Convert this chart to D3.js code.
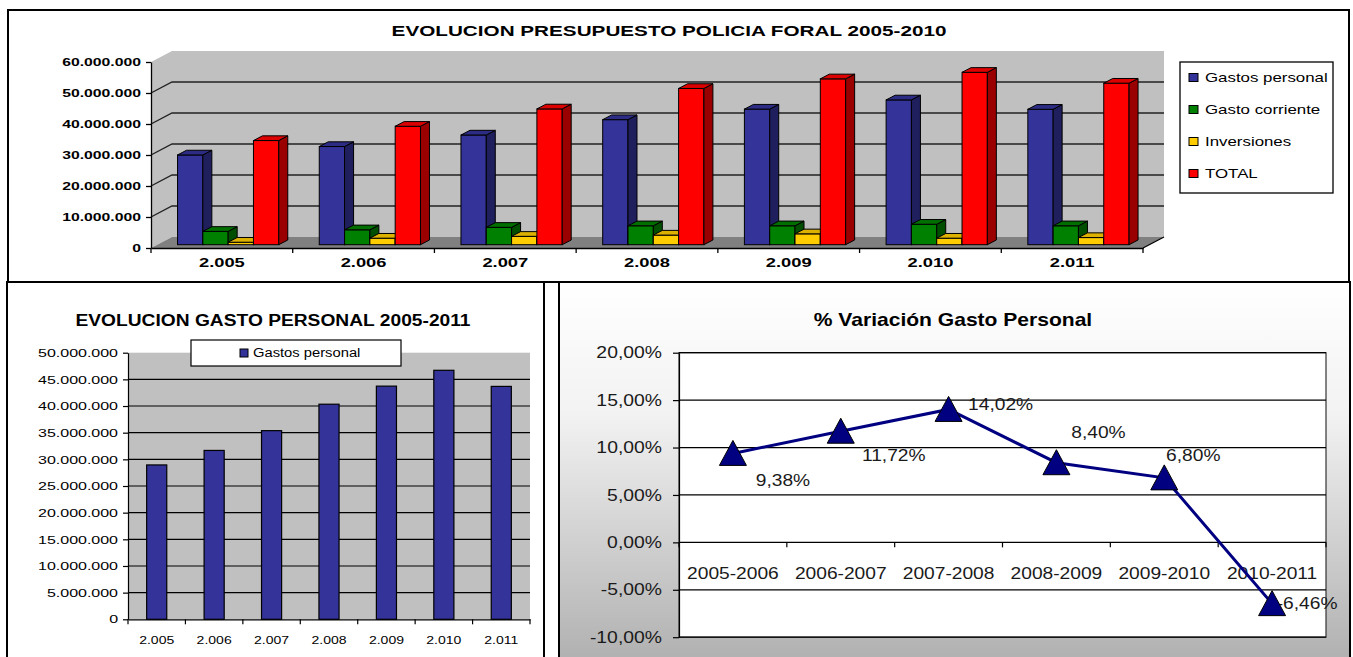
<!DOCTYPE html>
<html>
<head>
<meta charset="utf-8">
<script src="https://cdn.jsdelivr.net/npm/d3@7"></script>
<style>
  body { margin: 0; background: #fff; }
  svg { display: block; font-family: "Liberation Sans", Arial, sans-serif; }
</style>
</head>
<body>
<svg id="chart" width="1353" height="657"></svg>
<script>
// --- Data ---
const years = [2005, 2006, 2007, 2008, 2009, 2010, 2011];
const gastosPersonal = [28.95e6, 31.67e6, 35.38e6, 40.34e6, 43.73e6, 46.70e6, 43.68e6];
const gastoCorriente = [4.3e6, 4.8e6, 5.6e6, 6.1e6, 6.1e6, 6.6e6, 6.1e6];
const inversiones = [0.8e6, 2.1e6, 2.7e6, 3.1e6, 3.5e6, 2.1e6, 2.3e6];
const totalPresupuesto = [33.6e6, 38.2e6, 43.8e6, 50.4e6, 53.5e6, 55.6e6, 52.1e6];
const seriesNames = ["Gastos personal", "Gasto corriente", "Inversiones", "TOTAL"];
const seriesColors = ["#333399", "#008000", "#ffcc00", "#ff0000"];

const periods = ["2005-2006", "2006-2007", "2007-2008", "2008-2009", "2009-2010", "2010-2011"];
const variation = [9.38, 11.72, 14.02, 8.40, 6.80, -6.46];
// where Excel put each data label, relative to its point
const labelOffsets = [[50, 27], [53, 24], [52, -5], [42, -30], [29, -22], [35, 0]];

// Spanish number format: 60.000.000 / 20,00%
const es = d3.formatLocale({ decimal: ",", thousands: ".", grouping: [3], currency: ["", " €"], minus: "-" });
const fmtInt = es.format(",.0f");
const fmtYear = es.format(",d");
const fmtPct = v => es.format(".2f")(v) + "%";

const svg = d3.select("#chart");
const defs = svg.append("defs");
const poly = pts => "M" + pts.map(p => p.join(",")).join("L") + "Z";

// the picture is stretched sideways, so text gets a horizontal scale
function stretch(sel, sx) {
  sel.each(function () {
    const t = d3.select(this);
    const x = +t.attr("x") || 0;
    t.attr("x", x / sx).attr("transform", `scale(${sx},1)`);
  });
}
function label(g, x, y, str, sx) {
  return g.append("text").attr("transform", `translate(${x},${y}) scale(${sx},1)`).text(str);
}

// ================= TOP: 3D column chart =================
const T = { x0: 151, x1: 1143, y0: 248, y1: 62, dx: 21, dy: -11 };
const xTop = d3.scaleBand().domain(years).range([T.x0, T.x1]);
const yTop = d3.scaleLinear().domain([0, 60e6]).range([T.y0, T.y1]);
const gT = svg.append("g");

label(gT, 669, 36, "EVOLUCION PRESUPUESTO POLICIA FORAL 2005-2010", 1.38)
  .attr("text-anchor", "middle").attr("font-size", 15).attr("font-weight", "bold");

// side wall, back wall, floor
gT.append("path").attr("fill", "#c0c0c0")
  .attr("d", poly([[T.x0, T.y0], [T.x0, T.y1], [T.x0 + T.dx, T.y1 + T.dy], [T.x0 + T.dx, T.y0 + T.dy]]));
gT.append("rect").attr("fill", "#c0c0c0")
  .attr("x", T.x0 + T.dx).attr("y", T.y1 + T.dy)
  .attr("width", T.x1 - T.x0).attr("height", T.y0 - T.y1);
gT.append("path").attr("fill", "#808080")
  .attr("d", poly([[T.x0, T.y0], [T.x1, T.y0], [T.x1 + T.dx, T.y0 + T.dy], [T.x0 + T.dx, T.y0 + T.dy]]));

// gridlines: slant on side wall, flat on back wall
gT.append("g").selectAll("path")
  .data(yTop.ticks(6).filter(v => v > 0 && v < 60e6))
  .enter().append("path")
  .attr("fill", "none").attr("stroke", "#222").attr("stroke-width", 1.4)
  .attr("d", v => `M${T.x0},${yTop(v)}L${T.x0 + T.dx},${yTop(v) + T.dy}H${T.x1 + T.dx}`);

// y axis
const yAxT = gT.append("g").attr("transform", `translate(${T.x0},0)`)
  .call(d3.axisLeft(yTop).ticks(6).tickFormat(fmtInt).tickSize(5).tickSizeOuter(0).tickPadding(5));
yAxT.attr("font-family", null).attr("font-size", 10.5).attr("font-weight", "bold");
yAxT.selectAll("line, path").attr("stroke", "#000").attr("stroke-width", 1.3);
stretch(yAxT.selectAll("text"), 1.5);

// x axis
const xAxT = gT.append("g").attr("transform", `translate(0,${T.y0})`)
  .call(d3.axisBottom(xTop).tickFormat(fmtYear).tickSize(0).tickSizeOuter(0).tickPadding(10));
xAxT.attr("font-family", null).attr("font-size", 13).attr("font-weight", "bold");
xAxT.select(".domain").attr("stroke", "#000").attr("stroke-width", 1.3);
stretch(xAxT.selectAll("text"), 1.41);
gT.append("g").selectAll("line")
  .data([...years.map(y => xTop(y)), T.x1])
  .enter().append("line")
  .attr("x1", d => d).attr("x2", d => d).attr("y1", T.y0).attr("y2", T.y0 + 5)
  .attr("stroke", "#000").attr("stroke-width", 1.3);
gT.append("line")
  .attr("x1", T.x1).attr("y1", T.y0).attr("x2", T.x1 + T.dx).attr("y2", T.y0 + T.dy)
  .attr("stroke", "#000").attr("stroke-width", 1.3);

// 3D bars
const topSeries = [gastosPersonal, gastoCorriente, inversiones, totalPresupuesto];
const inner = d3.scaleBand().domain(seriesNames).range([0, xTop.bandwidth()]).paddingOuter(0.8);
const shift = { dx: 0.3 * T.dx, dy: 0.3 * T.dy };
const depth = { dx: 9, dy: -4.7 };
const barData = years.flatMap((yr, i) => topSeries.map((vals, s) => ({ yr, s, v: vals[i] })));

gT.append("g").selectAll("g.bar")
  .data(barData).enter().append("g").attr("class", "bar")
  .each(function (d) {
    const g = d3.select(this);
    const c = d3.color(seriesColors[d.s]);
    const x = xTop(d.yr) + inner(seriesNames[d.s]) + shift.dx;
    const w = inner.bandwidth();
    const yt = yTop(d.v) + shift.dy, yb = T.y0 + shift.dy;
    g.append("rect").attr("x", x).attr("y", yt).attr("width", w).attr("height", yb - yt)
      .attr("fill", c).attr("stroke", "#000").attr("stroke-width", 1);
    g.append("path").attr("fill", c.darker(1.4)).attr("stroke", "#000").attr("stroke-width", 1)
      .attr("d", poly([[x + w, yt], [x + w + depth.dx, yt + depth.dy], [x + w + depth.dx, yb + depth.dy], [x + w, yb]]));
    g.append("path").attr("fill", c.darker(0.4)).attr("stroke", "#000").attr("stroke-width", 1)
      .attr("d", poly([[x, yt], [x + depth.dx, yt + depth.dy], [x + w + depth.dx, yt + depth.dy], [x + w, yt]]));
  });

// legend
const legT = gT.append("g");
legT.append("rect").attr("x", 1180).attr("y", 62).attr("width", 153).attr("height", 131)
  .attr("fill", "#fff").attr("stroke", "#000").attr("stroke-width", 1.3);
const legItems = legT.selectAll("g.item").data(seriesNames).enter().append("g")
  .attr("transform", (d, i) => `translate(1189,${77.5 + i * 32})`);
legItems.append("rect").attr("x", 0).attr("y", -4).attr("width", 9).attr("height", 8)
  .attr("fill", (d, i) => seriesColors[i]).attr("stroke", "#000").attr("stroke-width", 1);
legItems.append("text").attr("x", 16).attr("y", 4.5).attr("font-size", 12.5).text(d => d)
  .call(stretch, 1.35);

// ================= BOTTOM LEFT: 2D column chart =================
const B = { x0: 128, x1: 530, y0: 619.3, y1: 352.7 };
const xBL = d3.scaleBand().domain(years).range([B.x0, B.x1]);
const yBL = d3.scaleLinear().domain([0, 50e6]).range([B.y0, B.y1]);
const gB = svg.append("g");

label(gB, 273, 326, "EVOLUCION GASTO PERSONAL 2005-2011", 1.13)
  .attr("text-anchor", "middle").attr("font-size", 17).attr("font-weight", "bold");

gB.append("rect").attr("x", B.x0).attr("y", B.y1).attr("width", B.x1 - B.x0).attr("height", B.y0 - B.y1)
  .attr("fill", "#c0c0c0");
gB.append("g").selectAll("line")
  .data(yBL.ticks(10).filter(v => v > 0 && v < 50e6))
  .enter().append("line")
  .attr("x1", B.x0).attr("x2", B.x1).attr("y1", d => yBL(d)).attr("y2", d => yBL(d))
  .attr("stroke", "#000").attr("stroke-width", 1.2);

const barW = xBL.bandwidth() * 0.35;
gB.append("g").selectAll("rect")
  .data(gastosPersonal).enter().append("rect")
  .attr("x", (d, i) => xBL(years[i]) + (xBL.bandwidth() - barW) / 2)
  .attr("y", d => yBL(d)).attr("width", barW).attr("height", d => B.y0 - yBL(d))
  .attr("fill", "#333399").attr("stroke", "#000").attr("stroke-width", 1.2);

const yAxB = gB.append("g").attr("transform", `translate(${B.x0},0)`)
  .call(d3.axisLeft(yBL).ticks(10).tickFormat(fmtInt).tickSize(5).tickSizeOuter(0).tickPadding(5));
yAxB.attr("font-family", null).attr("font-size", 11.5);
yAxB.selectAll("line, path").attr("stroke", "#000").attr("stroke-width", 1.2);
stretch(yAxB.selectAll("text"), 1.39);

const xAxB = gB.append("g").attr("transform", `translate(0,${B.y0})`)
  .call(d3.axisBottom(xBL).tickFormat(fmtYear).tickSize(0).tickSizeOuter(0).tickPadding(17));
xAxB.attr("font-family", null).attr("font-size", 11.5);
xAxB.select(".domain").attr("stroke", "#000").attr("stroke-width", 1.2);
stretch(xAxB.selectAll("text"), 1.22);
gB.append("g").selectAll("line")
  .data([...years.map(y => xBL(y)), B.x1])
  .enter().append("line")
  .attr("x1", d => d).attr("x2", d => d).attr("y1", B.y0).attr("y2", B.y0 + 5)
  .attr("stroke", "#000").attr("stroke-width", 1.2);

const legB = gB.append("g");
legB.append("rect").attr("x", 191).attr("y", 340).attr("width", 210).attr("height", 26)
  .attr("fill", "#fff").attr("stroke", "#000").attr("stroke-width", 1.2);
legB.append("rect").attr("x", 240).attr("y", 349).attr("width", 8).attr("height", 8)
  .attr("fill", "#333399").attr("stroke", "#000").attr("stroke-width", 1);
legB.append("text").attr("x", 253).attr("y", 357.5).attr("font-size", 12).text(seriesNames[0])
  .call(stretch, 1.23);

// ================= BOTTOM RIGHT: % variation line =================
const grad = defs.append("linearGradient").attr("id", "bgRight")
  .attr("x1", 0).attr("y1", 0).attr("x2", 0).attr("y2", 1);
grad.append("stop").attr("offset", "0%").attr("stop-color", "#ffffff");
grad.append("stop").attr("offset", "35%").attr("stop-color", "#f2f2f2");
grad.append("stop").attr("offset", "100%").attr("stop-color", "#b0b0b0");

svg.append("rect").attr("x", 559).attr("y", 282).attr("width", 791).attr("height", 380)
  .attr("fill", "url(#bgRight)");

const R = { x0: 679, x1: 1326, y0: 637.2, y1: 352.7 };
const xR = d3.scalePoint().domain(periods).range([R.x0, R.x1]).padding(0.5);
const yR = d3.scaleLinear().domain([-10, 20]).range([R.y0, R.y1]);
const gR = svg.append("g");

label(gR, 953, 326, "% Variación Gasto Personal", 1.17)
  .attr("text-anchor", "middle").attr("font-size", 18).attr("font-weight", "bold");

gR.append("rect").attr("x", R.x0).attr("y", R.y1).attr("width", R.x1 - R.x0).attr("height", R.y0 - R.y1)
  .attr("fill", "#fff").attr("stroke", "#333").attr("stroke-width", 1.2);
gR.append("g").selectAll("line")
  .data(yR.ticks(6))
  .enter().append("line")
  .attr("x1", R.x0).attr("x2", R.x1).attr("y1", d => yR(d)).attr("y2", d => yR(d))
  .attr("stroke", "#000").attr("stroke-width", 1.2);

const yAxR = gR.append("g").attr("transform", `translate(${R.x0},0)`)
  .call(d3.axisLeft(yR).ticks(6).tickFormat(fmtPct).tickSize(6).tickSizeOuter(0).tickPadding(11));
yAxR.attr("font-family", null).attr("font-size", 16);
yAxR.selectAll("line, path").attr("stroke", "#000").attr("stroke-width", 1.2);
yAxR.selectAll("text").attr("fill", "#1a1a1a");
stretch(yAxR.selectAll("text"), 1.21);

const step = xR.step();
gR.append("g").selectAll("line")
  .data([...periods.map(p => xR(p) - step / 2), R.x1])
  .enter().append("line")
  .attr("x1", d => d).attr("x2", d => d).attr("y1", yR(0)).attr("y2", yR(0) + 5)
  .attr("stroke", "#000").attr("stroke-width", 1.2);

gR.append("g").selectAll("text")
  .data(periods).enter().append("text")
  .attr("transform", d => `translate(${xR(d)},579) scale(1.2,1)`)
  .attr("text-anchor", "middle").attr("font-size", 16).attr("fill", "#1a1a1a")
  .text(d => d);

gR.append("g").selectAll("text")
  .data(variation).enter().append("text")
  .attr("transform", (d, i) =>
    `translate(${xR(periods[i]) + labelOffsets[i][0]},${yR(d) + labelOffsets[i][1]}) scale(1.2,1)`)
  .attr("dy", "0.35em").attr("text-anchor", "middle").attr("font-size", 16).attr("fill", "#1a1a1a")
  .text(d => fmtPct(d));

gR.append("path")
  .datum(variation)
  .attr("fill", "none").attr("stroke", "#000080").attr("stroke-width", 3)
  .attr("d", d3.line().x((d, i) => xR(periods[i])).y(d => yR(d)));

gR.append("g").selectAll("path")
  .data(variation).enter().append("path")
  .attr("transform", (d, i) => `translate(${xR(periods[i])},${yR(d)})`)
  .attr("d", "M0,-13L13.5,12L-13.5,12Z")
  .attr("fill", "#000080").attr("stroke", "#000").attr("stroke-width", 1);

// ================= panel frames =================
const frames = [
  { x: 8, y: 10, w: 1341, h: 272 },
  { x: 7, y: 282, w: 537, h: 380 },
  { x: 559, y: 282, w: 791, h: 380 }
];
svg.append("g").selectAll("rect").data(frames).enter().append("rect")
  .attr("x", d => d.x).attr("y", d => d.y).attr("width", d => d.w).attr("height", d => d.h)
  .attr("fill", "none").attr("stroke", "#000").attr("stroke-width", 2);
</script>
</body>
</html>
